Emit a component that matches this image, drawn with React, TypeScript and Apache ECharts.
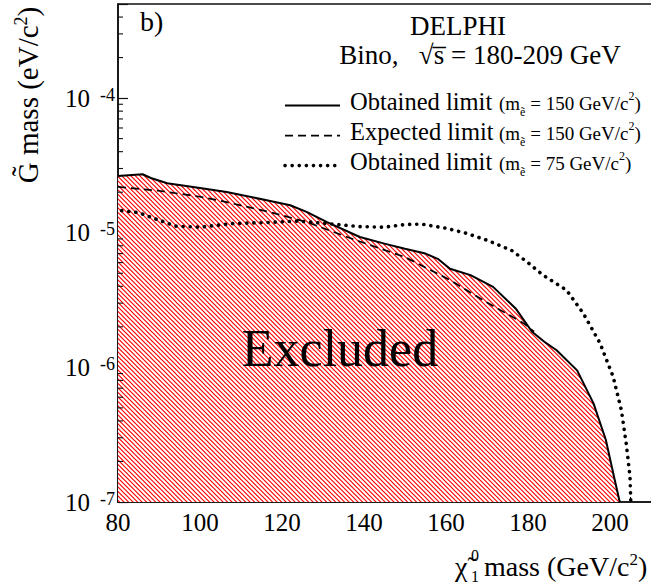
import React, { useEffect, useRef } from 'react';
import * as echarts from 'echarts';

// Obtained limit, m(selectron) = 150 GeV/c2  (solid, hatched region below)
const obtained150X = [80, 86, 88, 92, 100, 106.5, 116, 122, 126, 131, 139, 145, 150, 155, 158, 161, 166, 171.5, 177, 181, 184, 187, 192, 196, 199, 201, 202.4];
const obtained150Y = [2.64e-5, 2.72e-5, 2.55e-5, 2.33e-5, 2.15e-5, 2.01e-5, 1.75e-5, 1.6e-5, 1.43e-5, 1.2e-5, 9.3e-6, 8.3e-6, 7.6e-6, 7.0e-6, 6.4e-6, 5.4e-6, 4.84e-6, 3.96e-6, 2.74e-6, 1.84e-6, 1.55e-6, 1.34e-6, 9.5e-7, 5.4e-7, 2.9e-7, 1.54e-7, 1e-7];

// Expected limit, m(selectron) = 150 GeV/c2 (dashed)
const expected150X = [80, 90, 100, 105, 118, 126, 139, 150, 161, 169, 179, 181.5];
const expected150Y = [2.19e-5, 2.05e-5, 1.85e-5, 1.73e-5, 1.4e-5, 1.2e-5, 8.6e-6, 6.6e-6, 4.45e-6, 3.16e-6, 2.12e-6, 1.84e-6];

// Obtained limit, m(selectron) = 75 GeV/c2 (dotted)
const obtained75X = [80.9, 85, 90, 94, 100, 108, 116, 124, 131, 139, 145, 150, 154, 160, 165, 170, 176, 180, 183.7, 189.4, 193.5, 197.6, 200.8, 202.8, 204, 204.9, 205.1];
const obtained75Y = [1.46e-5, 1.41e-5, 1.24e-5, 1.12e-5, 1.1e-5, 1.17e-5, 1.19e-5, 1.22e-5, 1.17e-5, 1.11e-5, 1.1e-5, 1.15e-5, 1.16e-5, 1.08e-5, 9.9e-6, 8.8e-6, 7.4e-6, 6.0e-6, 4.84e-6, 3.75e-6, 2.52e-6, 1.51e-6, 8.5e-7, 4.8e-7, 2.7e-7, 1.54e-7, 1.0e-7];

// axis
const xMin = 80;
const xMax = 211;
const xInterval = 20;
const xLastLabel = 200;
const yMin = 1e-7;
const yMax = 5e-4;
const yMinorMantissas = [2, 3, 4, 5, 6, 7, 8, 9];
const yDecadeExps = [-7, -6, -5, -4];

const legendRows = [
  { label: 'Obtained limit', mass: '150' },
  { label: 'Expected limit', mass: '150' },
  { label: 'Obtained limit', mass: '75' },
];

const FONT = '"Liberation Serif", "Times New Roman", Times, serif';

function zip(xs: number[], ys: number[]) {
  return xs.map((x, i) => [x, ys[i]]);
}

export default function App() {
  const ref = useRef<HTMLDivElement>(null);
  useEffect(() => {
    const chart = echarts.init(ref.current!, null, { renderer: 'svg' });

    // hatch tile: "\" diagonals, period 4.5 px horizontally
    const offs = [-9, -4.5, 0, 4.5, 9];
    const d = offs.map((c) => `M-1,${-1 + c}L10,${10 + c}`).join('');
    const hatchSvg =
      `<svg xmlns="http://www.w3.org/2000/svg" width="9" height="9"><rect width="9" height="9" fill="#ffffff"/><path d="${d}" stroke="#ff0000" stroke-width="1.15"/></svg>`;
    const hatch: any = {
      image: 'data:image/svg+xml;charset=utf-8,' + encodeURIComponent(hatchSvg),
      repeat: 'repeat',
      imageWidth: 9,
      imageHeight: 9,
    };

    const minorVals: number[][] = [];
    yDecadeExps.forEach((e) => {
      yMinorMantissas.forEach((m) => {
        const v = m * Math.pow(10, e);
        if (v < yMax) minorVals.push([xMin, v]);
      });
    });

    const axisColor = '#111';
    const lineX1 = 285;
    const lineX2 = 340;
    const rowY = [101.6, 131.6, 161.6];
    const lineTypes: any[] = [
      { lineDash: null, lineWidth: 2, lineCap: 'butt' },
      { lineDash: [8, 5], lineWidth: 1.7, lineCap: 'butt' },
      { lineDash: [0.1, 7], lineWidth: 3.6, lineCap: 'round' },
    ];

    const graphics: any[] = [
      {
        type: 'text', x: 140, y: 21.5,
        style: { text: 'b)', fontSize: 28, fontFamily: FONT, fill: '#000', align: 'left', verticalAlign: 'middle' },
      },
      {
        type: 'text', x: 458, y: 26,
        style: { text: 'DELPHI', fontSize: 27, fontFamily: FONT, fill: '#000', align: 'center', verticalAlign: 'middle' },
      },
      {
        type: 'text', x: 480, y: 55,
        style: { text: 'Bino,   \u221As\u0305 = 180-209 GeV', fontSize: 27, fontFamily: FONT, fill: '#000', align: 'center', verticalAlign: 'middle' },
      },
      {
        type: 'text', x: 340, y: 348, z: 50,
        style: { text: 'Excluded', fontSize: 52, fontFamily: FONT, fill: '#000', align: 'center', verticalAlign: 'middle' },
      },
      {
        type: 'text', x: 28, y: 95, rotation: Math.PI / 2,
        style: {
          text: '{t|G\u0303 mass (eV/c}{s|2}{t|)}',
          align: 'center', verticalAlign: 'middle',
          rich: {
            t: { fontSize: 29, fontFamily: FONT, fill: '#000' },
            s: { fontSize: 18, fontFamily: FONT, fill: '#000', verticalAlign: 'top', padding: [0, 0, 14, 0] },
          },
        },
      },
      {
        type: 'text', x: 455, y: 566,
        style: { text: '\u03C7\u0303', fontSize: 28, fontFamily: FONT, fill: '#000', align: 'left', verticalAlign: 'middle' },
      },
      {
        type: 'text', x: 471, y: 555,
        style: { text: '0', fontSize: 16, fontFamily: FONT, fill: '#000', align: 'left', verticalAlign: 'middle' },
      },
      {
        type: 'text', x: 471, y: 576,
        style: { text: '1', fontSize: 16, fontFamily: FONT, fill: '#000', align: 'left', verticalAlign: 'middle' },
      },
      {
        type: 'text', x: 484, y: 566,
        style: {
          text: '{m|mass (GeV/c}{s|2}{m|)}',
          align: 'left', verticalAlign: 'middle',
          rich: {
            m: { fontSize: 28, fontFamily: FONT, fill: '#000' },
            s: { fontSize: 17, fontFamily: FONT, fill: '#000', verticalAlign: 'top', padding: [0, 0, 14, 0] },
          },
        },
      },
    ];

    legendRows.forEach((r, i) => {
      graphics.push({
        type: 'line',
        shape: { x1: lineX1, y1: rowY[i] + 4, x2: lineX2, y2: rowY[i] + 4 },
        style: { stroke: '#000', ...lineTypes[i] },
      });
      graphics.push({
        type: 'text', x: 350, y: rowY[i],
        style: { text: r.label, fontSize: 24.5, fontFamily: FONT, fill: '#000', align: 'left', verticalAlign: 'middle' },
      });
      graphics.push({
        type: 'text', x: 499, y: rowY[i] + 2,
        style: {
          text: `{a|(m}{b|\u1EBD}{a| = ${r.mass} GeV/c}{c|2}{a|)}`,
          align: 'left', verticalAlign: 'middle',
          rich: {
            a: { fontSize: 19, fontFamily: FONT, fill: '#000', lineHeight: 22 },
            b: { fontSize: 12, fontFamily: FONT, fill: '#000', verticalAlign: 'bottom', padding: [14, 0, 0, 0] },
            c: { fontSize: 12, fontFamily: FONT, fill: '#000', verticalAlign: 'top', padding: [0, 0, 16, 0] },
          },
        },
      });
    });

    const option: any = {
      animation: false,
      backgroundColor: '#ffffff',
      grid: {
        left: 118, top: 4, right: -4, bottom: 86,
        outerBoundsMode: 'none',
        containLabel: false,
        show: true, borderColor: axisColor, borderWidth: 1.6, backgroundColor: 'transparent',
      },
      xAxis: {
        type: 'value', min: xMin, max: xMax, interval: xInterval,
        axisLine: { show: true, onZero: false, lineStyle: { color: axisColor, width: 1.6 } },
        axisTick: { show: true, inside: true, length: 10, lineStyle: { color: axisColor, width: 1.2 } },
        minorTick: { show: true, splitNumber: 4, length: 5, lineStyle: { color: axisColor, width: 1.1 } },
        splitLine: { show: false },
        axisLabel: {
          margin: 8, fontSize: 25, fontFamily: FONT, color: '#000',
          formatter: (v: number) => (v > xLastLabel ? '' : String(v)),
        },
      },
      yAxis: {
        type: 'log', logBase: 10, min: yMin, max: yMax,
        axisLine: { show: true, lineStyle: { color: axisColor, width: 1.6 } },
        axisTick: { show: true, inside: true, length: 10, lineStyle: { color: axisColor, width: 1.2 } },
        splitLine: { show: false },
        axisLabel: {
          margin: 3, showMinLabel: true, showMaxLabel: true,
          formatter: (v: number) => {
            const e = Math.log10(v);
            const r = Math.round(e);
            if (Math.abs(e - r) > 1e-6) return '';
            return `{b|10}{e|${r}}`;
          },
          rich: {
            b: { fontSize: 25, fontFamily: FONT, color: '#000', lineHeight: 25, verticalAlign: 'middle' },
            e: { fontSize: 18, fontFamily: FONT, color: '#000', lineHeight: 18, verticalAlign: 'top', padding: [0, 0, 34, 10] },
          },
        },
      },
      graphic: graphics,
      series: [
        {
          name: 'Obtained limit (150)', type: 'line', data: zip(obtained150X, obtained150Y),
          showSymbol: false, symbol: 'none', smooth: false, z: 3,
          lineStyle: { color: '#000', width: 2, type: 'solid' },
          areaStyle: { color: hatch, origin: 'start', opacity: 1 },
        },
        {
          name: 'Expected limit (150)', type: 'line', data: zip(expected150X, expected150Y),
          showSymbol: false, symbol: 'none', z: 4,
          lineStyle: { color: '#000', width: 1.7, type: [8, 5] },
        },
        {
          name: 'Obtained limit (75)', type: 'line', data: zip(obtained75X, obtained75Y),
          showSymbol: false, symbol: 'none', z: 5,
          lineStyle: { color: '#000', width: 3.6, type: [0.1, 7], cap: 'round' },
        },
        {
          name: 'minorTicks', type: 'custom', data: minorVals, z: 6, silent: true,
          renderItem: (_p: any, api: any) => {
            const pt = api.coord([api.value(0), api.value(1)]);
            return {
              type: 'line',
              shape: { x1: pt[0], y1: pt[1], x2: pt[0] + 5, y2: pt[1] },
              style: { stroke: axisColor, lineWidth: 1.1 },
            };
          },
        },
      ],
    };
    chart.setOption(option);
    return () => chart.dispose();
  }, []);
  return (
    <div
      ref={ref}
      style={{ position: 'fixed', left: 0, top: 0, width: 651, height: 588, background: '#fff' }}
    />
  );
}
